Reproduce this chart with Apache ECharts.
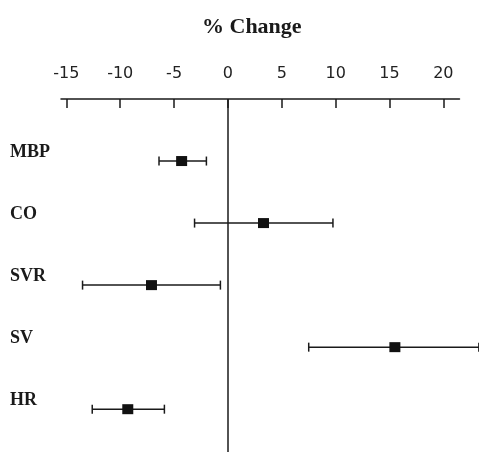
<!DOCTYPE html>
<html>
<head>
<meta charset="utf-8">
<script src="https://cdn.jsdelivr.net/npm/echarts@6/dist/echarts.min.js"></script>
<style>
  html, body { margin: 0; padding: 0; background: #fff; }
  #chart { width: 479px; height: 455px; }
</style>
</head>
<body>
<div id="chart"></div>
<script>
  // 数据
  const categories = ['MBP', 'CO', 'SVR', 'SV', 'HR'];
  const means = [-4.3, 3.3, -7.1, 15.5, -9.3];
  const lower = [-6.4, -3.1, -13.5, 7.5, -12.6];
  const upper = [-2.0, 9.75, -0.7, 23.3, -5.9];
  const tickValues = [-15, -10, -5, 0, 5, 10, 15, 20];

  const myChart = echarts.init(document.getElementById('chart'));

  let whiskerData = [];
  let pointData = [];
  categories.map((c, i) => {
    whiskerData.push([lower[i], upper[i], i]);
    pointData.push([means[i], i]);
  });

  const ink = '#1a1a1a';

  myChart.setOption({
    animation: false,
    title: {
      text: '% Change',
      left: 197,
      top: 11,
      textStyle: {
        fontFamily: 'Liberation Serif',
        fontWeight: 'bold',
        fontSize: 22,
        color: ink
      }
    },
    grid: {
      left: 61,
      right: 19.5,
      top: 99,
      bottom: 3
    },
    xAxis: {
      type: 'value',
      position: 'top',
      min: -15.5,
      max: 21.5,
      axisLine: {
        show: true,
        onZero: false,
        lineStyle: { color: ink, width: 1.5 }
      },
      axisTick: {
        show: true,
        inside: true,
        length: 9,
        customValues: tickValues,
        lineStyle: { color: ink, width: 1.5 }
      },
      axisLabel: {
        customValues: tickValues,
        margin: 17,
        fontFamily: 'DejaVu Sans',
        fontSize: 16,
        color: '#222'
      },
      splitLine: { show: false }
    },
    yAxis: {
      type: 'value',
      inverse: true,
      min: -1,
      max: 4.69,
      axisLine: { show: false },
      axisTick: { show: false },
      splitLine: { show: false },
      axisLabel: {
        customValues: [0, 1, 2, 3, 4],
        formatter: (v) => categories[v],
        align: 'left',
        verticalAlign: 'bottom',
        margin: 51,
        fontFamily: 'Liberation Serif',
        fontWeight: 'bold',
        fontSize: 18,
        color: ink
      }
    },
    series: [
      {
        type: 'custom',
        clip: false,
        data: whiskerData,
        encode: { x: [0, 1], y: 2 },
        renderItem: (params, api) => {
          const lo = api.coord([api.value(0), api.value(2)]);
          const hi = api.coord([api.value(1), api.value(2)]);
          const cap = 4.5;
          const style = { stroke: ink, lineWidth: 1.5 };
          return {
            type: 'group',
            children: [
              { type: 'line', shape: { x1: lo[0], y1: lo[1], x2: hi[0], y2: hi[1] }, style: style },
              { type: 'line', shape: { x1: lo[0], y1: lo[1] - cap, x2: lo[0], y2: lo[1] + cap }, style: style },
              { type: 'line', shape: { x1: hi[0], y1: hi[1] - cap, x2: hi[0], y2: hi[1] + cap }, style: style }
            ]
          };
        }
      },
      {
        type: 'scatter',
        data: pointData,
        symbol: 'rect',
        symbolSize: [11, 10],
        itemStyle: { color: '#111', opacity: 1 },
        z: 5,
        markLine: {
          silent: true,
          symbol: ['none', 'none'],
          label: { show: false },
          lineStyle: { color: ink, width: 1.5, type: 'solid' },
          data: [{ xAxis: 0 }]
        }
      }
    ]
  });

  window.addEventListener('resize', () => {
    myChart && myChart.resize();
  });
</script>
</body>
</html>
